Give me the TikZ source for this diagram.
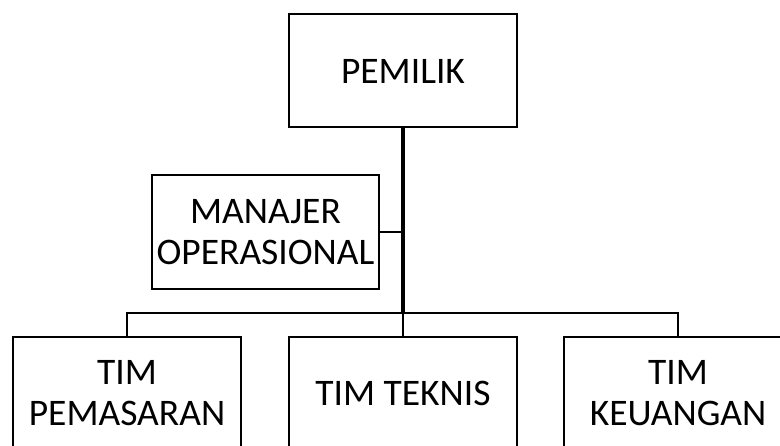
\documentclass[tikz,border=0pt]{standalone}
\usepackage{fontspec}
\setmainfont{Carlito}
\usepackage{tikz}

\tikzset{
  unit/.style={draw,line width=2pt,minimum width=228pt,minimum height=113pt,inner sep=0pt,align=center,font=\fontsize{37.5}{41}\selectfont},
  link/.style={line width=1.6pt},
  trunk/.style={line width=3.5pt}
}

\begin{document}
\begin{tikzpicture}[x=1pt,y=-1pt]
\useasboundingbox (0,0) rectangle (780,446);
\clip (0,0) rectangle (780,446);
\node (pemilik) at (403,71) [unit] {PEMILIK};
\node (manajer) at (265.5,232) [unit,minimum width=227pt,minimum height=114pt] {MANAJER\\OPERASIONAL};
\node (pemasaran) at (127,393.5) [unit] {TIM\\PEMASARAN};
\node (teknis) at (403,393.5) [unit] {TIM TEKNIS};
\node (keuangan) at (678,393.5) [unit] {TIM\\KEUANGAN};
\coordinate (junction) at (403,313);
\draw [trunk] (pemilik.south) -- (junction);
\draw [link] (pemasaran.north) |- (junction) -| (keuangan.north);
\draw [link] (junction) -- (teknis.north);
\draw [link] (manajer.east) -- (manajer.east -| pemilik.south);
\end{tikzpicture}
\end{document}
